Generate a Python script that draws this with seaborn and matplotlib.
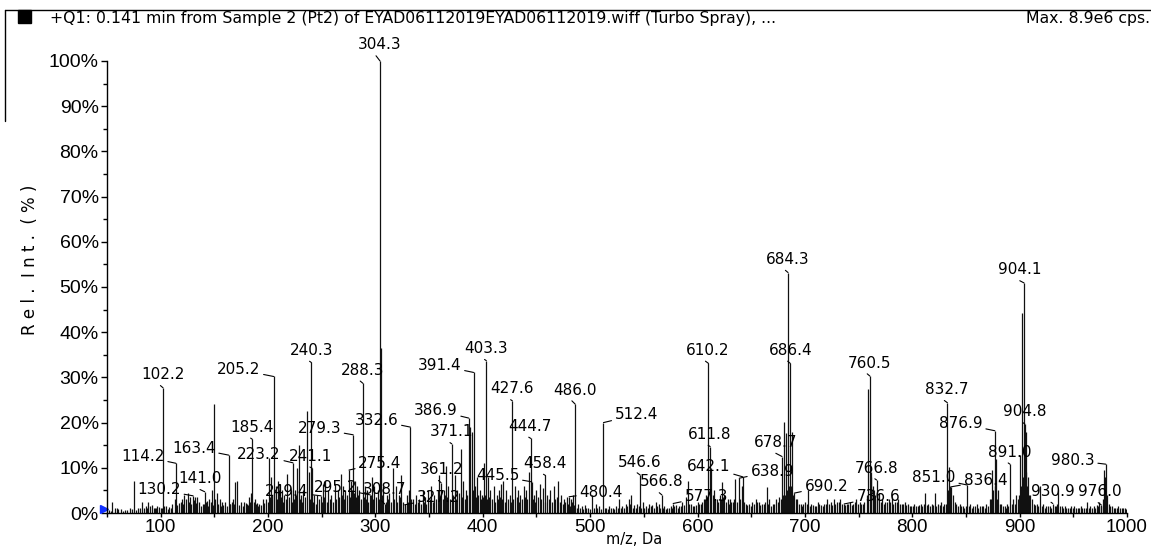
import matplotlib
matplotlib.use("Agg")
import matplotlib.pyplot as plt
from matplotlib.lines import Line2D
from matplotlib.patches import Rectangle
from matplotlib.ticker import MultipleLocator
import pandas as pd
import seaborn as sns

# ---------------- data ----------------
label_mz = [102.2, 114.2, 130.2, 141.0, 163.4, 185.4, 205.2, 223.2, 240.3, 241.1,
            249.4, 279.3, 288.3, 275.4, 295.2, 304.3, 308.7, 327.2, 332.6, 361.2,
            371.1, 386.9, 391.4, 403.3, 427.6, 444.7, 445.5, 458.4, 480.4, 486.0,
            512.4, 546.6, 566.8, 577.3, 610.2, 611.8, 642.1, 638.9, 678.7, 684.3,
            686.4, 690.2, 736.6, 760.5, 766.8, 832.7, 851.0, 836.4, 876.9, 891.0,
            904.1, 904.8, 930.9, 976.0, 980.3]
label_int = [27.7, 11.0, 3.8, 4.7, 12.8, 16.3, 30.2, 11.1, 33.3, 9.9,
             3.8, 17.3, 28.7, 9.5, 4.0, 100.0, 2.0, 1.8, 19.0, 6.7,
             15.3, 21.0, 31.1, 33.7, 24.8, 16.5, 6.9, 8.3, 3.6, 24.1,
             20.0, 8.4, 4.0, 2.1, 33.1, 14.7, 8.0, 7.7, 12.5, 53.2,
             33.1, 4.4, 2.0, 30.3, 7.3, 24.4, 6.2, 5.8, 18.2, 10.8,
             50.9, 19.7, 2.1, 1.8, 10.8]
label_txt = ["102.2", "114.2", "130.2", "141.0", "163.4", "185.4", "205.2", "223.2", "240.3", "241.1",
             "249.4", "279.3", "288.3", "275.4", "295.2", "304.3", "308.7", "327.2", "332.6", "361.2",
             "371.1", "386.9", "391.4", "403.3", "427.6", "444.7", "445.5", "458.4", "480.4", "486.0",
             "512.4", "546.6", "566.8", "577.3", "610.2", "611.8", "642.1", "638.9", "678.7", "684.3",
             "686.4", "690.2", "736.6", "760.5", "766.8", "832.7", "851.0", "836.4", "876.9", "891.0",
             "904.1", "904.8", "930.9", "976.0", "980.3"]

other_mz = [52, 55, 59, 63, 67, 71, 75, 79, 83, 86, 88, 92, 95, 97, 100, 105, 108, 111, 113, 117,
            120, 122, 125, 127, 132, 134, 136, 139, 143, 145, 148, 150, 152, 155, 157, 160, 165, 167,
            169, 171, 175, 178, 180, 182, 184, 188, 190, 192, 195, 198, 201, 203, 207, 209, 211, 213,
            215, 218, 221, 225, 227, 228.6, 231, 233, 236.6, 238, 243, 246, 251, 253, 256, 259, 262,
            265, 268, 270, 272, 277, 281, 283, 285, 290, 292, 297, 299, 302, 305.3, 307, 311, 313,
            316, 319, 322, 324, 329, 331, 335, 338, 341, 344, 346, 349, 352, 355, 358, 359.5, 364,
            366, 368, 374, 376, 379.5, 382, 384, 388.2, 389.5, 393, 395, 397, 399, 401, 405, 407,
            410, 413, 415, 417, 419, 422, 425, 430, 433, 435, 438, 440, 443, 448, 450, 453, 456,
            460, 463, 466, 470, 473, 476, 478, 482, 484, 489, 492, 495, 498, 502, 505, 508, 515,
            518, 521, 524, 527, 530, 533, 536, 538, 541, 544, 549, 552, 555, 558, 561, 564, 569,
            572, 575, 580, 583, 586, 589, 591, 594, 597, 600, 603, 606, 608, 612.5, 615, 618, 621,
            623, 625, 628, 630, 633, 635, 641, 645, 648, 651, 654, 657, 660, 664.6, 667, 670, 673,
            676, 680.8, 682.7, 688, 693, 696, 700, 703, 706, 709, 712, 715, 718, 721, 724, 727,
            730, 733, 739, 742, 745, 748, 751, 754, 758.8, 762, 764, 769, 772, 775, 778, 781, 784,
            787, 790, 793, 796, 799, 802, 805, 808, 812, 815, 818, 821, 824, 827, 830, 834.5, 838,
            841, 844, 847, 854, 857, 860, 863, 866, 869, 872, 874, 878, 880, 883, 886, 888, 894,
            897, 900.6, 902.5, 906, 908, 910, 913, 916, 919, 922, 925, 928, 934, 936, 939, 942,
            945, 948, 951, 954, 957, 960, 963, 966, 969, 972, 974, 978.5, 983, 986, 989, 992, 995,
            998]
other_int = [0.6, 2.4, 1.2, 0.8, 0.7, 1.0, 7.1, 1.2, 2.5, 1.5, 2.5, 1.8, 1.0, 1.5, 1.2, 1.5, 1.3, 2.0, 3.0, 2.2,
             3.0, 4.0, 4.5, 3.5, 3.5, 3.5, 2.5, 2.0, 2.6, 3.0, 5.0, 24.1, 4.5, 3.0, 2.5, 2.5, 2.0, 3.0,
             6.8, 7.0, 2.5, 2.5, 2.0, 3.5, 4.5, 3.0, 2.2, 2.0, 3.0, 3.0, 12.1, 8.0, 6.0, 7.0, 6.5, 5.0,
             4.0, 8.6, 5.0, 5.0, 10.0, 15.0, 4.0, 5.0, 22.6, 9.0, 4.0, 4.0, 6.5, 7.0, 5.0, 4.0, 6.5,
             5.0, 8.7, 6.0, 5.0, 7.0, 7.0, 6.0, 5.0, 6.0, 5.0, 8.0, 6.0, 5.0, 36.4, 6.0, 4.0, 4.5,
             10.0, 6.0, 4.0, 8.5, 4.0, 5.0, 3.0, 4.0, 3.0, 5.0, 3.5, 5.0, 6.0, 4.0, 5.0, 8.5, 5.0,
             10.5, 6.0, 8.5, 5.0, 14.2, 7.0, 5.0, 19.0, 18.0, 6.0, 8.0, 5.0, 4.0, 11.0, 8.0, 5.0,
             6.0, 4.0, 5.0, 6.5, 7.0, 5.0, 4.0, 6.0, 5.0, 4.0, 6.0, 5.0, 9.0, 4.0, 5.0, 6.5, 5.5,
             4.0, 5.0, 6.0, 7.0, 4.0, 3.0, 3.5, 3.0, 4.0, 2.0, 1.5, 1.8, 1.2, 4.0, 2.0, 1.5, 1.2,
             1.5, 1.0, 1.5, 3.0, 1.5, 2.0, 3.0, 4.0, 1.8, 2.0, 2.5, 1.5, 2.0, 1.8, 2.5, 2.0, 1.5,
             1.0, 1.5, 1.8, 1.5, 2.5, 3.5, 7.0, 2.0, 1.5, 2.5, 2.0, 3.0, 4.0, 10.0, 5.0, 3.0, 4.0,
             6.8, 4.0, 3.0, 3.0, 2.5, 7.5, 6.0, 2.0, 2.0, 2.5, 3.0, 2.5, 2.0, 5.7, 3.0, 2.0, 3.0,
             3.5, 20.2, 17.7, 18.0, 3.0, 2.0, 2.5, 5.0, 2.0, 1.5, 2.5, 1.8, 2.0, 3.0, 2.5, 3.0,
             2.5, 3.0, 2.0, 2.5, 2.0, 3.0, 2.5, 2.0, 27.4, 8.0, 5.0, 4.5, 3.0, 2.5, 3.0, 3.5, 2.5,
             3.0, 2.0, 2.5, 2.0, 1.5, 2.0, 1.5, 2.0, 4.5, 2.0, 2.0, 4.5, 2.0, 2.5, 2.0, 10.2, 4.0,
             2.0, 2.0, 1.5, 2.0, 1.5, 2.0, 1.5, 1.5, 2.0, 3.0, 9.5, 12.0, 5.0, 2.0, 1.5, 2.0, 3.0,
             4.0, 12.8, 44.2, 18.0, 8.0, 4.0, 2.0, 2.0, 6.0, 2.0, 1.5, 1.5, 1.5, 5.0, 1.5, 1.5,
             1.2, 1.5, 1.5, 1.2, 1.5, 1.2, 2.5, 1.5, 1.5, 1.8, 2.5, 9.5, 2.0, 1.5, 1.2, 1.5, 1.2,
             1.0]

# low-level baseline peaks (noise floor)
minor_mz = [53.5, 57, 60.5, 65, 69, 73, 77, 81, 84.5, 87, 90, 93.5, 96, 98.5,
            101, 103.5, 106.5, 109.5, 115.5, 118.5, 121, 123.5, 126, 128.5, 131, 133, 137.5, 140,
            142, 144, 146.5, 149, 151, 153.5, 156, 158.5, 161.5, 164.5, 166, 168, 173, 176.5, 179,
            181, 183, 186.5, 189, 191, 193.5, 196.5, 199.5, 202, 204, 206, 208, 210, 212, 214,
            216.5, 219.5, 222, 224, 226, 230, 232, 234.5, 239, 242, 244.5, 247.5, 250, 252, 254.5,
            257.5, 260.5, 263.5, 266.5, 269, 271, 273.5, 276, 278, 280, 282, 284, 286.5, 289.5,
            291, 293.5, 296, 298, 300.5, 303, 306, 309.5, 312, 314.5, 317.5, 320.5, 323, 325.5,
            328, 330, 333.5, 336.5, 339.5, 342.5, 345, 347.5, 350.5, 353.5, 356.5, 360.5, 362.5,
            365, 367, 369.5, 372.5, 375, 377.5, 381, 383, 385.5, 390.5, 392, 394, 396, 398, 400,
            402, 404, 406, 408.5, 411.5, 414, 416, 418, 420.5, 423.5, 426, 428.5, 431.5, 434,
            436.5, 439, 441.5, 446.5, 449, 451.5, 454.5, 457.5, 461.5, 464.5, 467.5, 469, 471.5,
            474.5, 477, 479.5, 481, 483, 485, 487.5, 490.5, 493.5, 496.5, 500, 503.5, 506.5, 510,
            513.5, 516.5, 519.5, 522.5, 525.5, 528.5, 531.5, 534.5, 537, 539.5, 542.5, 545.5,
            547.5, 550.5, 553.5, 556.5, 559.5, 562.5, 565.5, 567.5, 570.5, 573.5, 576.5, 578.5,
            581.5, 584.5, 587.5, 592.5, 595.5, 598.5, 601.5, 604.5, 607, 609, 614, 616.5, 619.5,
            622, 624, 626.5, 629, 631.5, 634, 637, 640, 643.5, 646.5, 649.5, 652.5, 655.5, 658.5,
            661.5, 663, 665.5, 668.5, 671.5, 674.5, 677.5, 679.5, 681.8, 683.5, 685.3, 687.2, 689,
            691.5, 694.5, 697.5, 698.5, 701.5, 704.5, 707.5, 710.5, 713.5, 716.5, 719.5, 722.5,
            725.5, 728.5, 731.5, 734.5, 737.5, 740.5, 743.5, 746.5, 749.5, 752.5, 755.5, 757.5,
            761.5, 763, 765.5, 767.5, 770.5, 773.5, 776.5, 779.5, 782.5, 785.5, 788.5, 791.5,
            794.5, 797.5, 800.5, 803.5, 806.5, 809.5, 810.5, 813.5, 816.5, 819.5, 822.5, 825.5,
            828.5, 831.5, 833.5, 835.5, 839.5, 842.5, 845.5, 848.5, 850, 852.5, 855.5, 858.5,
            861.5, 864.5, 867.5, 870.5, 873, 875.5, 877.5, 879, 881.5, 884.5, 887.5, 889.5, 892.5,
            895.5, 898.5, 899.5, 901.5, 903.3, 905.5, 907, 909, 911.5, 914.5, 917.5, 920.5, 923.5,
            926.5, 929.5, 932.5, 935, 937.5, 940.5, 943.5, 946.5, 949.5, 952.5, 955.5, 958.5,
            961.5, 964.5, 967.5, 970.5, 973, 975.5, 977.5, 979.5, 981.5, 984.5, 987.5, 990.5,
            993.5, 996.5, 999]
minor_int = [0.5, 1.0, 0.8, 0.5, 0.6, 0.8, 0.7, 1.0, 1.2, 1.0, 1.5, 1.2, 1.0, 1.3,
             1.0, 1.5, 0.8, 1.2, 1.8, 2.5, 2.0, 3.0, 2.5, 2.0, 2.8, 2.2, 1.5, 2.0,
             2.5, 1.5, 2.5, 1.8, 3.0, 2.0, 1.5, 1.8, 1.5, 2.0, 2.5, 2.0, 1.8, 1.5, 2.2,
             1.8, 2.5, 2.5, 2.0, 1.5, 1.8, 2.2, 2.5, 3.5, 4.0, 4.5, 3.0, 5.0, 3.5, 2.5,
             3.0, 3.5, 2.5, 3.0, 4.0, 3.0, 2.5, 3.5, 3.0, 2.5, 2.0, 3.0, 2.5, 3.5, 2.5,
             3.0, 2.5, 3.0, 3.5, 4.0, 3.0, 4.0, 3.5, 5.0, 4.5, 3.5, 4.0, 3.0, 3.5,
             3.0, 2.5, 4.0, 3.0, 3.5, 3.0, 4.0, 2.5, 3.0, 2.5, 3.0, 2.5, 3.5, 2.5,
             2.0, 2.5, 3.0, 2.0, 2.5, 2.0, 2.5, 2.0, 3.0, 2.5, 3.0, 3.5, 3.0,
             4.0, 3.5, 3.0, 4.0, 3.0, 4.5, 3.5, 3.0, 4.0, 5.0, 4.0, 3.5, 4.0, 3.0, 3.5,
             4.0, 3.0, 3.5, 3.0, 2.5, 3.0, 3.5, 3.0, 2.5, 3.0, 2.5, 3.0, 3.5, 2.5,
             3.0, 3.5, 3.0, 3.0, 2.5, 3.5, 3.0, 2.5, 3.0, 2.5, 3.0, 3.5, 2.5,
             2.0, 2.5, 2.0, 1.5, 2.5, 1.8, 1.2, 1.0, 0.8, 1.0, 0.8, 1.2, 1.0, 0.8,
             1.0, 0.8, 1.0, 0.8, 1.0, 1.2, 1.0, 1.5, 2.0, 1.2, 1.0, 1.5,
             1.2, 1.0, 1.2, 1.5, 1.2, 1.5, 1.2, 1.0, 0.8, 1.0, 1.2, 1.5,
             1.2, 1.5, 1.8, 2.0, 1.5, 1.8, 2.0, 2.5, 3.0, 3.5, 4.0, 3.0, 2.5,
             3.0, 3.5, 2.5, 2.0, 2.5, 3.0, 2.5, 3.0, 2.5, 1.8, 1.5, 2.0, 2.5, 1.8,
             2.0, 2.5, 2.0, 1.5, 2.0, 2.5, 3.0, 4.0, 4.0, 5.0, 6.0, 6.0, 4.0,
             3.0, 2.0, 1.5, 2.0, 2.0, 1.5, 1.8, 1.5, 2.0, 1.5, 2.0, 2.0,
             1.8, 2.0, 2.5, 2.0, 1.8, 2.0, 1.8, 2.5, 2.0, 2.0, 2.5, 4.0,
             9.0, 6.0, 4.0, 3.0, 2.5, 2.0, 2.5, 2.5, 2.0, 2.5, 2.0, 2.0,
             1.8, 1.5, 1.5, 1.5, 1.8, 1.5, 2.0, 1.8, 1.5, 1.8, 1.5, 1.8,
             1.5, 2.0, 5.0, 6.0, 2.5, 1.5, 1.5, 1.2, 1.5, 1.5, 1.2, 1.5,
             1.2, 1.5, 1.2, 1.5, 3.0, 5.0, 6.0, 3.0, 2.0, 1.5, 1.2, 1.5, 2.0,
             2.0, 3.0, 4.0, 6.0, 8.0, 9.0, 6.0, 4.0, 3.0, 1.8, 1.5, 1.5, 1.2,
             1.5, 1.2, 1.5, 2.0, 1.5, 1.2, 1.0, 1.2, 1.0, 1.2, 1.0, 1.2,
             1.0, 1.2, 1.0, 1.2, 1.5, 1.5, 3.0, 8.0, 4.0, 1.5, 1.2, 1.0,
             1.2, 1.0, 0.8]

y_ticks = [0, 10, 20, 30, 40, 50, 60, 70, 80, 90, 100]
y_tick_labels = ["0%", "10%", "20%", "30%", "40%", "50%", "60%", "70%", "80%", "90%", "100%"]
x_ticks = [100, 200, 300, 400, 500, 600, 700, 800, 900, 1000]
x_tick_labels = ["100", "200", "300", "400", "500", "600", "700", "800", "900", "1000"]

title_text = "+Q1: 0.141 min from Sample 2 (Pt2) of EYAD06112019EYAD06112019.wiff (Turbo Spray), ..."
max_text = "Max. 8.9e6 cps."
y_label = "R e l .  I n t .  ( % )"
x_label = "m/z, Da"

# ---------------- layout (pixels) ----------------
label_offsets = [(0, 13), (-33, 7), (-34, 6), (-5, 13), (-35, 7), (0, 12), (-35, 7), (-34, 8), (0, 12), (-2, 12),
                 (-34, 4), (-34, 6), (0, 13), (31, 7), (-35, 7), (0, 16), (0, 14), (34, 7), (-34, 7), (0, 13),
                 (0, 12), (-33, 8), (-34, 7), (0, 12), (0, 12), (-1, 12), (-34, 6), (-1, 12), (32, 4), (0, 14),
                 (33, 8), (-1, 13), (0, 13), (33, 7), (-1, 13), (-1, 12), (-34, 10), (33, 7), (-6, 14), (0, 13),
                 (0, 13), (32, 7), (34, 7), (0, 13), (0, 12), (-1, 13), (-33, 7), (34, 6), (-34, 7), (0, 12),
                 (-4, 13), (0, 12), (0, 12), (-1, 13), (-33, 4)]

W, H = 1151, 546
sns.set_theme(style="ticks")
plt.rcParams["font.family"] = ["DejaVu Sans"]
tick_font = "Liberation Sans"

fig = plt.figure(figsize=(W / 100, H / 100), dpi=100)
ax = fig.add_axes([107 / W, 1 - 513 / H, (1127 - 107) / W, (513 - 61) / H])

df = pd.DataFrame({"mz": minor_mz + other_mz + label_mz,
                   "rel": minor_int + other_int + label_int})
ax.vlines(df["mz"], 0, df["rel"], color="#111111", lw=0.9)

ax.set_xlim(50, 1000)
ax.set_ylim(0, 100)
sns.despine(ax=ax)
for s in ("left", "bottom"):
    ax.spines[s].set_linewidth(1.0)
    ax.spines[s].set_color("black")

ax.set_yticks(y_ticks, labels=y_tick_labels, fontfamily=tick_font, fontsize=14)
ax.set_xticks(x_ticks, labels=x_tick_labels, fontfamily=tick_font, fontsize=13.5)
ax.yaxis.set_minor_locator(MultipleLocator(5))
ax.xaxis.set_minor_locator(MultipleLocator(50))
ax.tick_params(axis="y", which="major", direction="out", length=4, width=1, color="black",
               labelcolor="black", pad=2)
ax.tick_params(axis="x", which="major", direction="out", length=3, width=1, color="black",
               labelcolor="black", pad=1)
ax.tick_params(axis="both", which="minor", direction="out", length=3, width=1, color="black")
ax.set_xlabel("")
ax.set_ylabel("")
ax.grid(False)

# marker at origin
origin_marker = (47.5, 0.9)
ax.plot([origin_marker[0]], [origin_marker[1]], marker=">", color="#1030ff", markersize=6,
        clip_on=False, ls="none")

for mz, it, txt, (dx, dy) in zip(label_mz, label_int, label_txt, label_offsets):
    rel = (0.35, 0.0) if abs(dx) < 8 else (0.5, 0.5)
    ax.annotate(txt, xy=(mz, it), xytext=(dx, dy), textcoords="offset pixels",
                ha="center", va="center", fontsize=11, color="black", annotation_clip=False,
                arrowprops=dict(arrowstyle="-", lw=0.8, color="black", shrinkA=0, shrinkB=0,
                                relpos=rel))

# header
fig.add_artist(Line2D([5 / W, 1.0], [1 - 10 / H, 1 - 10 / H], color="black", lw=1.0,
                      transform=fig.transFigure))
fig.add_artist(Line2D([5 / W, 5 / W], [1 - 10 / H, 1 - 121 / H], color="black", lw=1.0,
                      transform=fig.transFigure))
fig.add_artist(Rectangle((18 / W, 1 - 23 / H), 13 / W, 13 / H, color="black",
                         transform=fig.transFigure))
fig.text(50 / W, 1 - 19 / H, title_text, ha="left", va="center", fontsize=11.3, color="black")
fig.text(1150 / W, 1 - 19 / H, max_text, ha="right", va="center", fontsize=11.3, color="black")
fig.text(30 / W, 1 - 260 / H, y_label, rotation=90, ha="center", va="center", fontsize=12, color="black")
fig.text(634 / W, 1 - 544 / H, x_label, ha="center", va="baseline", fontsize=10.5, color="black")

fig.savefig("out.png", dpi=100)
